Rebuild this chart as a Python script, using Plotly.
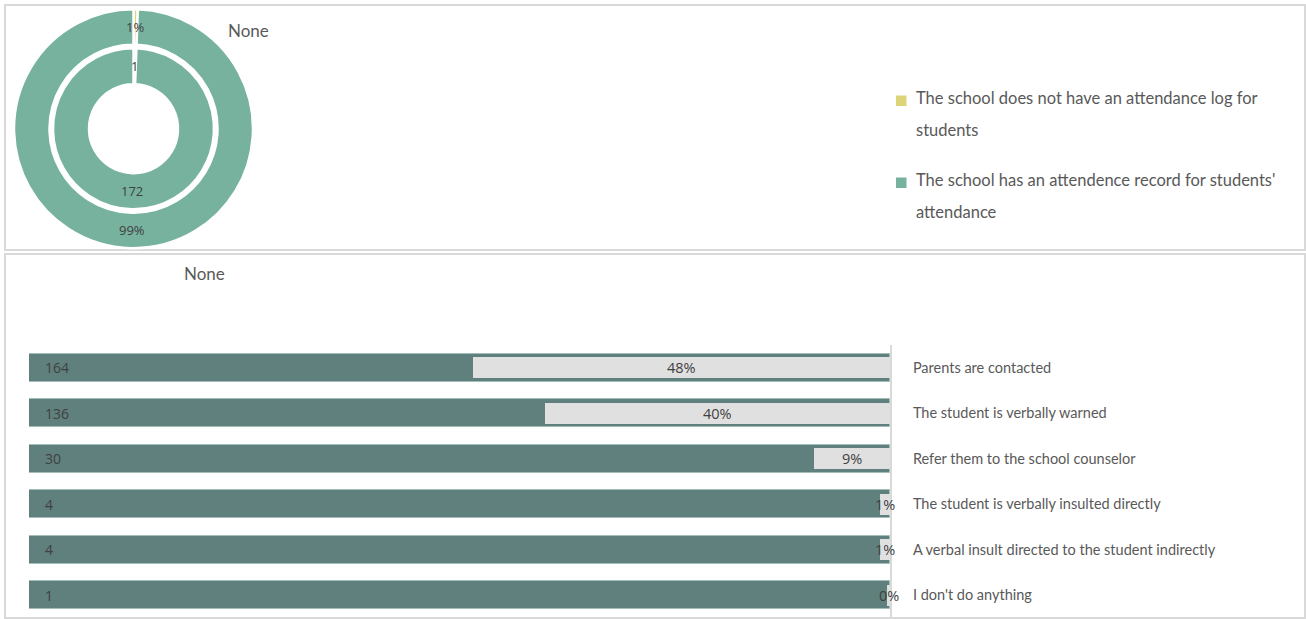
import math
import plotly.graph_objects as go

W, H = 1306, 619

# ---------------- data ----------------
attend_labels = [
    "The school does not have an attendance log for<br>students",
    "The school has an attendence record for students'<br>attendance",
]
attend_counts = [1, 172]
attend_colors = ["#DDD47A", "#77B29F"]

resp_labels = [
    "Parents are contacted",
    "The student is verbally warned",
    "Refer them to the school counselor",
    "The student is verbally insulted directly",
    "A verbal insult directed to the student indirectly",
    "I don't do anything",
]
resp_counts = [164, 136, 30, 4, 4, 1]

chart_titles = ["None", "None"]

# ---------------- helpers ----------------
def px(x):
    return x / W


def py(y):
    return 1 - y / H


TEXT = "#595959"
NUM = "#404040"
LABEL_FONT = "Lato, 'Open Sans', sans-serif"
NUM_FONT = "'Open Sans', Lato, sans-serif"

fig = go.Figure()

# ---------------- donut (nested) ----------------
cx, cy = 133.5, 128.7
r_out, r_out_in = 119.5, 84.0
r_in, r_in_in = 80.5, 44.5

fig.add_trace(go.Pie(
    labels=attend_labels, values=attend_counts, sort=False, direction="clockwise",
    rotation=0, hole=r_out_in / r_out, textinfo="none",
    marker=dict(colors=attend_colors, line=dict(color="white", width=2.5)),
    domain=dict(x=[px(cx - r_out), px(cx + r_out)], y=[py(cy + r_out), py(cy - r_out)]),
    showlegend=False, hoverinfo="label+value+percent",
))
fig.add_trace(go.Pie(
    labels=attend_labels, values=attend_counts, sort=False, direction="clockwise",
    rotation=0, hole=r_in_in / r_in, textinfo="none",
    marker=dict(colors=attend_colors, line=dict(color="white", width=2.5)),
    domain=dict(x=[px(cx - r_in), px(cx + r_in)], y=[py(cy + r_in), py(cy - r_in)]),
    showlegend=False, hoverinfo="label+value+percent",
))

annotations = []
shapes = []
total_att = sum(attend_counts)
cum = 0
for c in attend_counts:
    frac = c / total_att
    theta = math.radians((cum + frac / 2) * 360)
    cum += frac
    ro = (r_out + r_out_in) / 2
    annotations.append(dict(
        x=px(cx + ro * math.sin(theta)), y=py(cy - ro * math.cos(theta)),
        xref="paper", yref="paper", text=f"{frac * 100:.0f}%", showarrow=False,
        font=dict(family=NUM_FONT, size=13, color=NUM), xanchor="center", yanchor="middle"))
    ri = (r_in + r_in_in) / 2
    annotations.append(dict(
        x=px(cx + ri * math.sin(theta)), y=py(cy - ri * math.cos(theta)),
        xref="paper", yref="paper", text=f"{c}", showarrow=False,
        font=dict(family=NUM_FONT, size=13, color=NUM), xanchor="center", yanchor="middle"))

# legend for the donut (drawn with wide line spacing as in the original)
leg_x_sq, leg_x_txt = 896, 914
leg_y0, leg_item_gap, leg_line_gap = 98, 82, 32
for i, (lab, col) in enumerate(zip(attend_labels, attend_colors)):
    ytop = leg_y0 + i * leg_item_gap
    shapes.append(dict(type="rect", xref="paper", yref="paper",
                       x0=px(leg_x_sq), x1=px(leg_x_sq + 10.5),
                       y0=py(ytop + 8), y1=py(ytop - 2.5),
                       fillcolor=col, line=dict(width=0)))
    for j, line in enumerate(lab.split("<br>")):
        annotations.append(dict(
            x=px(leg_x_txt), y=py(ytop + j * leg_line_gap), xref="paper", yref="paper",
            text=line, showarrow=False, xanchor="left", yanchor="middle",
            font=dict(family=LABEL_FONT, size=16.5, color=TEXT)))

# ---------------- bars ----------------
total_resp = sum(resp_counts)
resp_pct = [c / total_resp * 100 for c in resp_counts]

fig.add_trace(go.Bar(
    y=resp_labels, x=[100] * len(resp_labels), orientation="h",
    marker=dict(color="#5F807C", line=dict(color="#A5BDB9", width=1)),
    width=0.62, xaxis="x", yaxis="y", showlegend=False,
    customdata=resp_counts, hovertemplate="%{y}: %{customdata}<extra></extra>",
))
fig.add_trace(go.Bar(
    y=resp_labels, x=resp_pct, base=[100 - p for p in resp_pct], orientation="h",
    marker=dict(color="#E0E0E0", line=dict(width=0)),
    width=0.46, xaxis="x", yaxis="y", showlegend=False,
    hovertemplate="%{y}: %{x:.0f}%<extra></extra>",
))

for lab, c, p in zip(resp_labels, resp_counts, resp_pct):
    annotations.append(dict(
        x=0, y=lab, xref="x", yref="y", text=str(c), showarrow=False,
        xanchor="left", yanchor="middle", xshift=14,
        font=dict(family=NUM_FONT, size=14, color=NUM)))
    annotations.append(dict(
        x=100 - p / 2, y=lab, xref="x", yref="y", text=f"{p:.0f}%", showarrow=False,
        xanchor="center", yanchor="middle",
        font=dict(family=NUM_FONT, size=14.5, color=NUM)))

# titles
annotations.append(dict(x=px(248), y=py(31), xref="paper", yref="paper", text=chart_titles[0],
                        showarrow=False, xanchor="center", yanchor="middle",
                        font=dict(family=LABEL_FONT, size=17, color=TEXT)))
annotations.append(dict(x=px(204), y=py(274), xref="paper", yref="paper", text=chart_titles[1],
                        showarrow=False, xanchor="center", yanchor="middle",
                        font=dict(family=LABEL_FONT, size=17, color=TEXT)))

# panel frames
shapes += [
    dict(type="rect", xref="paper", yref="paper", x0=px(5), x1=px(1305), y0=py(250), y1=py(5),
         line=dict(color="#D9D9D9", width=2), layer="below"),
    dict(type="rect", xref="paper", yref="paper", x0=px(5), x1=px(1305), y0=py(618), y1=py(254),
         line=dict(color="#D9D9D9", width=2), layer="below"),
]

fig.update_layout(
    width=W, height=H, margin=dict(l=0, r=0, t=0, b=0),
    paper_bgcolor="white", plot_bgcolor="white",
    barmode="overlay", bargap=0, showlegend=False,
    font=dict(family=LABEL_FONT, color=TEXT),
    xaxis=dict(domain=[px(29), px(890)], range=[0, 100], visible=False, anchor="y", fixedrange=True),
    yaxis=dict(domain=[py(618), py(345)], type="category", categoryorder="array",
               categoryarray=resp_labels, autorange="reversed", side="right", anchor="x",
               showline=True, linecolor="#D9D9D9", linewidth=2, ticks="", showgrid=False,
               zeroline=False, ticklabelstandoff=18,
               tickfont=dict(family=LABEL_FONT, size=14.5, color=TEXT), fixedrange=True),
    annotations=annotations, shapes=shapes,
)

fig.write_html("out.html", config={"displayModeBar": False},
               post_script="document.body.style.margin='0';document.body.style.overflow='hidden';")
